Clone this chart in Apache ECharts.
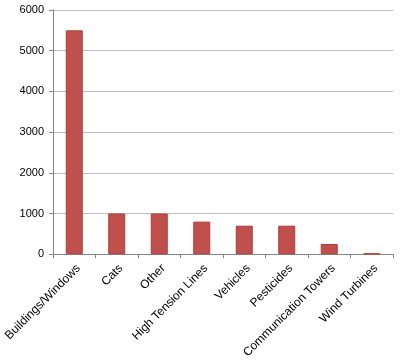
<!DOCTYPE html>
<html><head><meta charset="utf-8">
<script src="https://cdn.jsdelivr.net/npm/echarts@6/dist/echarts.min.js"></script>
<style>html,body{margin:0;padding:0;background:#fff}#c{width:400px;height:361px}</style>
</head><body><div id="c"></div>
<script>
var categories = ["Buildings/Windows","Cats","Other","High Tension Lines","Vehicles","Pesticides","Communication Towers","Wind Turbines"];
var values = [5500, 1000, 1000, 800, 700, 700, 250, 20];
var yTicks = [0, 1000, 2000, 3000, 4000, 5000, 6000];
var chart = echarts.init(document.getElementById('c'), null, {renderer:'canvas'});
chart.setOption({
  animation:false,
  grid:{left:53, right:7, top:10, bottom:106, containLabel:false},
  xAxis:{type:'category', data:categories, boundaryGap:true,
    axisLine:{lineStyle:{color:'#868686'}},
    axisTick:{show:true, alignWithLabel:false, length:4, lineStyle:{color:'#868686'}},
    axisLabel:{rotate:45, interval:0, color:'#000', fontFamily:'Liberation Sans, Arial', fontSize:12, margin:8, verticalAlign:'top'}},
  yAxis:{type:'value', min:yTicks[0], max:yTicks[yTicks.length-1], interval:1000,
    axisLine:{show:true, lineStyle:{color:'#868686'}},
    axisTick:{show:true, length:4, lineStyle:{color:'#868686'}},
    splitLine:{lineStyle:{color:'#BFBFBF', width:1}},
    axisLabel:{color:'#000', fontFamily:'Liberation Sans, Arial', fontSize:11, margin:9, formatter:function(v){return String(v);}}},
  series:[{type:'bar', data:values, barWidth:'40%',
    itemStyle:{color:'#C0504D', borderColor:'#B23A37', borderWidth:1}}]
});
</script></body></html>
